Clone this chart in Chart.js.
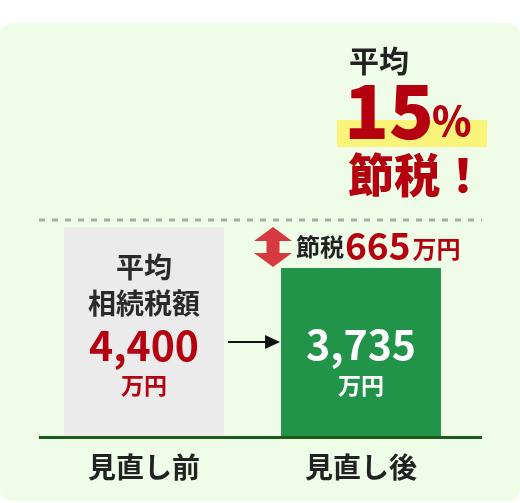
<!DOCTYPE html>
<html>
<head>
<meta charset="utf-8">
<script src="https://cdn.jsdelivr.net/npm/chart.js@4/dist/chart.umd.min.js"></script>
<style>
  html, body { margin: 0; padding: 0; background: #fff; }
  #wrap { width: 520px; height: 503px; }
</style>
</head>
<body>
<div id="wrap"><canvas id="saving"></canvas></div>
<script>
var categories = ['見直し前', '見直し後'];
var taxValues = [4400, 3735];
var barColors = ['#ebebeb', '#22944a'];
var valueLabels = ['4,400', '3,735'];
var savingLabel = '665';
var headline = ['平均', '15', '%', '節税！'];

var FONT = "'Noto Sans CJK JP', 'Noto Sans', sans-serif";

function font(size, w) {
    return (w || 'bold') + ' ' + size + 'px ' + FONT;
}

var decoPlugin = {
    id: 'deco',
    beforeDraw: function (chart) {
        var c = chart.ctx;
        var w = chart.width, h = chart.height;
        c.save();
        // panel
        c.fillStyle = '#effce8';
        c.beginPath();
        c.roundRect(0, 23, w, h - 25, 12);
        c.fill();

        // dashed top line
        var a = chart.chartArea;
        c.strokeStyle = '#a9aca9';
        c.lineWidth = 3;
        c.setLineDash([6, 7]);
        c.beginPath();
        c.moveTo(a.left + 3.5, a.top);
        c.lineTo(a.right + 12.5, a.top);
        c.stroke();
        c.setLineDash([]);

        // headline
        c.textAlign = 'left';
        c.textBaseline = 'middle';
        c.fillStyle = '#fbf47a';
        c.fillRect(337, 120, 150, 27);
        c.fillStyle = '#222';
        c.font = font(30);
        c.fillText(headline[0], 349, 61);
        c.fillStyle = '#b5000f';
        c.font = font(74, 900);
        c.fillText(headline[1], 344, 111);
        c.font = font(40, 900);
        c.fillText(headline[2], 432, 121);
        c.font = font(46, 900);
        c.fillText(headline[3], 348, 175);
        c.restore();
    },
    afterDatasetsDraw: function (chart) {
        var c = chart.ctx;
        var a = chart.chartArea;
        var bars = chart.getDatasetMeta(0).data;
        var g = bars[0], n = bars[1];
        var gr = g.x + g.width / 2;
        var nl = n.x - n.width / 2;
        c.save();

        // baseline
        c.strokeStyle = '#1d5b1d';
        c.lineWidth = 3;
        c.beginPath();
        c.moveTo(a.left + 3.5, a.bottom + 1.5);
        c.lineTo(a.right + 12.5, a.bottom + 1.5);
        c.stroke();

        c.textAlign = 'center';
        c.textBaseline = 'middle';

        // before bar texts
        c.fillStyle = '#2a2a2a';
        c.font = font(28);
        c.fillText('平均', g.x, 267);
        c.fillText('相続税額', g.x, 303);
        c.fillStyle = '#b5000f';
        c.font = font(41);
        c.fillText(valueLabels[0], g.x, 345);
        c.font = font(23);
        c.fillText('万円', g.x, 385);

        // after bar texts
        c.fillStyle = '#ffffff';
        c.font = font(41);
        c.fillText(valueLabels[1], n.x, 344);
        c.font = font(23);
        c.fillText('万円', n.x, 385);

        // category labels
        c.fillStyle = '#222';
        c.font = font(28);
        categories.forEach(function (lab, i) {
            c.fillText(lab, bars[i].x, a.bottom + 31);
        });

        // arrow between bars
        var ay = 342;
        c.strokeStyle = '#111';
        c.fillStyle = '#111';
        c.lineWidth = 2;
        c.beginPath();
        c.moveTo(gr + 4, ay);
        c.lineTo(nl - 14, ay);
        c.stroke();
        c.beginPath();
        c.moveTo(nl - 1, ay);
        c.lineTo(nl - 16, ay - 7);
        c.lineTo(nl - 16, ay + 7);
        c.closePath();
        c.fill();

        // red double arrow showing the saving
        var ax = nl - 8;
        var top = g.y, bot = n.y - 1;
        var mid = (top + bot) / 2;
        c.fillStyle = '#d63a40';
        c.beginPath();
        c.moveTo(ax, top);
        c.lineTo(ax + 19, mid - 6);
        c.lineTo(ax + 6.5, mid - 6);
        c.lineTo(ax + 6.5, mid + 6);
        c.lineTo(ax + 19, mid + 6);
        c.lineTo(ax, bot);
        c.lineTo(ax - 19, mid + 6);
        c.lineTo(ax - 6.5, mid + 6);
        c.lineTo(ax - 6.5, mid - 6);
        c.lineTo(ax - 19, mid - 6);
        c.closePath();
        c.fill();

        // saving label
        c.textAlign = 'left';
        c.textBaseline = 'alphabetic';
        var tx = ax + 23, ty = mid + 9;
        c.fillStyle = '#222';
        c.font = font(24);
        c.fillText('節税', tx, ty);
        tx += c.measureText('節税').width + 1;
        c.fillStyle = '#b5000f';
        c.font = font(37);
        c.fillText(savingLabel, tx, ty + 4);
        tx += c.measureText(savingLabel).width + 2;
        c.font = font(24);
        c.fillText('万円', tx, ty + 2);
        c.restore();
    }
};

var ctx = document.getElementById('saving').getContext('2d');
var chart = new Chart(ctx, {
    type: 'bar',
    data: {
        labels: categories,
        datasets: [{
            label: '相続税額',
            data: taxValues,
            backgroundColor: barColors,
            borderWidth: 0,
            categoryPercentage: 1,
            barPercentage: 0.737
        }]
    },
    options: {
        responsive: true,
        maintainAspectRatio: false,
        animation: false,
        layout: {
            padding: { top: 220, bottom: 67, left: 35.5, right: 50.5 }
        },
        plugins: {
            legend: { display: false },
            tooltip: { enabled: false }
        },
        scales: {
            x: { display: false },
            y: { display: false, min: 1010, max: 4514 }
        }
    },
    plugins: [decoPlugin]
});
</script>
</body>
</html>
